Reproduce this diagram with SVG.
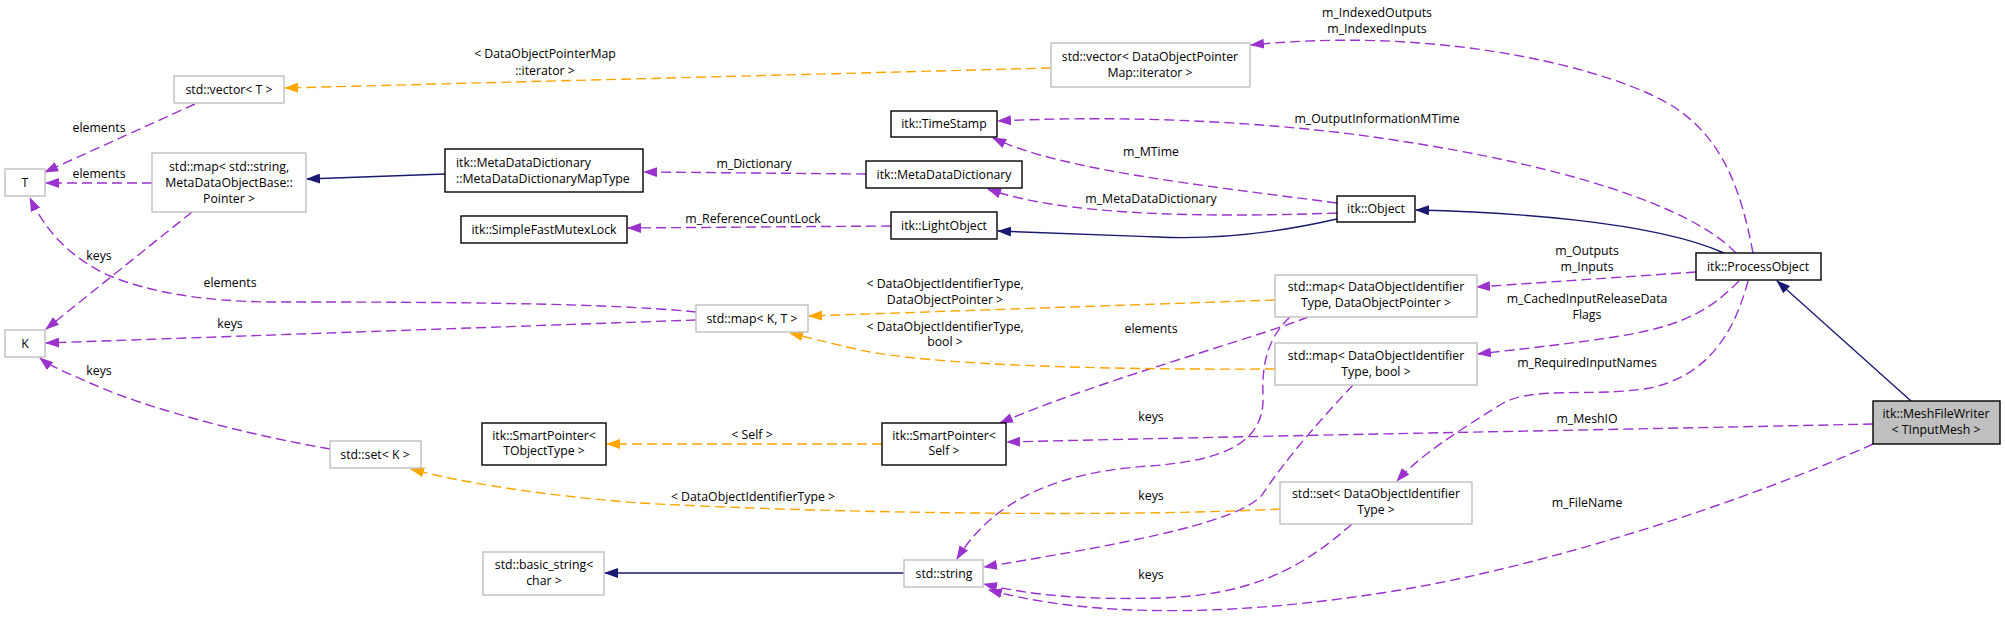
<svg xmlns="http://www.w3.org/2000/svg" width="2005" height="618" viewBox="0 0 2005 618">
<style>
text{font-family:"Open Sans","Liberation Sans",sans-serif;font-size:12.3px;fill:#000;text-anchor:middle}
.n rect{fill:#fff;stroke-width:1.4}
.ext rect{stroke:#bfbfbf}
.doc rect{stroke:#000}
.e path{fill:none;stroke-width:1.4}
.p{stroke:#9a32cd;stroke-dasharray:10,5;marker-end:url(#ap)}
.o{stroke:#ffa500;stroke-dasharray:10,5;marker-end:url(#ao)}
.s{stroke:#191970;marker-end:url(#as)}
</style>
<defs>
<marker id="ap" markerUnits="userSpaceOnUse" markerWidth="14" markerHeight="10" viewBox="0 0 14 10" refX="13" refY="5" orient="auto"><polygon points="0,0 14,5 0,10" fill="#9a32cd"/></marker>
<marker id="ao" markerUnits="userSpaceOnUse" markerWidth="14" markerHeight="10" viewBox="0 0 14 10" refX="13" refY="5" orient="auto"><polygon points="0,0 14,5 0,10" fill="#ffa500"/></marker>
<marker id="as" markerUnits="userSpaceOnUse" markerWidth="14" markerHeight="10" viewBox="0 0 14 10" refX="13" refY="5" orient="auto"><polygon points="0,0 14,5 0,10" fill="#191970"/></marker>
</defs>
<rect width="2005" height="618" fill="#fff"/>
<g id="edges" class="e">
<path class="p" d="M195,104 L45,172"/>
<path class="p" d="M152,183 L46,183"/>
<path class="p" d="M696,312 C600,302 400,302 268,302 C200,301 150,292 110,276 C70,258 45,230 30,198"/>
<path class="p" d="M192,212 L46,329"/>
<path class="p" d="M696,320 L46,343"/>
<path class="p" d="M330,449 C250,435 150,410 90,383 C65,372 50,366 40,358"/>
<path class="s" d="M445,174 L307,179"/>
<path class="p" d="M866,174 L644,172"/>
<path class="p" d="M891,226 L628,228"/>
<path class="o" d="M1051,68 L285,88"/>
<path class="p" d="M1753,253 C1742,195 1725,140 1674,107 C1620,72 1450,25 1251,45"/>
<path class="p" d="M1736,253 C1690,205 1560,165 1394,140 C1250,118 1100,116 998,121"/>
<path class="p" d="M1337,203 C1200,185 1060,170 993,138"/>
<path class="p" d="M1337,213 C1200,218 1060,215 988,189"/>
<path class="s" d="M1337,219 C1280,232 1220,240 1158,237 C1100,235 1040,233 998,231"/>
<path class="s" d="M1724,253 C1650,220 1500,212 1416,210"/>
<path class="p" d="M1696,272 L1477,287"/>
<path class="p" d="M1739,281 C1715,305 1690,325 1620,336 C1570,344 1520,349 1478,354"/>
<path class="p" d="M1748,281 C1735,330 1710,375 1650,388 C1590,398 1530,385 1500,405 C1460,430 1420,455 1397,481"/>
<path class="s" d="M1911,401 L1777,281"/>
<path class="p" d="M1873,424 C1600,430 1300,435 1007,442"/>
<path class="p" d="M1873,444 C1750,500 1550,565 1400,590 C1250,615 1100,620 989,590"/>
<path class="p" d="M1308,317 C1250,340 1100,380 1000,423"/>
<path class="p" d="M1290,317 C1265,340 1262,370 1263,395 C1265,440 1230,460 1150,466 C1050,472 990,505 957,559"/>
<path class="p" d="M1353,385 C1320,420 1285,460 1262,495 C1240,520 1150,540 984,567"/>
<path class="p" d="M1352,524 C1300,570 1250,595 1160,598 C1080,600 1030,595 984,584"/>
<path class="o" d="M1275,300 L809,316"/>
<path class="o" d="M1275,369 C1100,370 930,365 860,350 C830,343 805,337 790,333"/>
<path class="o" d="M1280,509 C1100,518 800,512 640,503 C560,497 470,485 411,469"/>
<path class="o" d="M882,444 L607,444"/>
<path class="s" d="M904,573 L605,573"/>
</g>
<g id="edge-labels">
<text x="99" y="132">elements</text>
<text x="99" y="178">elements</text>
<text x="230" y="287">elements</text>
<text x="99" y="260">keys</text>
<text x="230" y="328">keys</text>
<text x="99" y="375">keys</text>
<text x="545" y="58">&lt; DataObjectPointerMap</text>
<text x="545" y="75">::iterator &gt;</text>
<text x="1377" y="17">m_IndexedOutputs</text>
<text x="1377" y="33">m_IndexedInputs</text>
<text x="1377" y="123">m_OutputInformationMTime</text>
<text x="754" y="168">m_Dictionary</text>
<text x="1151" y="156">m_MTime</text>
<text x="1151" y="203">m_MetaDataDictionary</text>
<text x="753" y="223">m_ReferenceCountLock</text>
<text x="1587" y="255">m_Outputs</text>
<text x="1587" y="271">m_Inputs</text>
<text x="1587" y="303">m_CachedInputReleaseData</text>
<text x="1587" y="319">Flags</text>
<text x="1587" y="367">m_RequiredInputNames</text>
<text x="1587" y="423">m_MeshIO</text>
<text x="1587" y="507">m_FileName</text>
<text x="945" y="288">&lt; DataObjectIdentifierType,</text>
<text x="945" y="304">DataObjectPointer &gt;</text>
<text x="945" y="331">&lt; DataObjectIdentifierType,</text>
<text x="945" y="346">bool &gt;</text>
<text x="1151" y="333">elements</text>
<text x="1151" y="421">keys</text>
<text x="1151" y="500">keys</text>
<text x="1151" y="579">keys</text>
<text x="752" y="439">&lt; Self &gt;</text>
<text x="753" y="501">&lt; DataObjectIdentifierType &gt;</text>
</g>
<g id="node-T" class="n ext"><rect x="5" y="169" width="40" height="27"/><text x="25" y="187">T</text></g>
<g id="node-K" class="n ext"><rect x="5" y="330" width="40" height="27"/><text x="25" y="348">K</text></g>
<g id="node-vectorT" class="n ext"><rect x="174" y="76" width="110" height="27"/><text x="229" y="94">std::vector&lt; T &gt;</text></g>
<g id="node-mapString" class="n ext"><rect x="152" y="153" width="154" height="59"/><text x="229" y="171">std::map&lt; std::string,</text><text x="229" y="187">MetaDataObjectBase::</text><text x="229" y="203">Pointer &gt;</text></g>
<g id="node-MapType" class="n doc"><rect x="445" y="149" width="198" height="43"/><text x="456" y="167" style="text-anchor:start">itk::MetaDataDictionary</text><text x="456" y="183" style="text-anchor:start">::MetaDataDictionaryMapType</text></g>
<g id="node-Mutex" class="n doc"><rect x="461" y="216" width="166" height="27"/><text x="544" y="234">itk::SimpleFastMutexLock</text></g>
<g id="node-TimeStamp" class="n doc"><rect x="891" y="111" width="106" height="26"/><text x="944" y="128">itk::TimeStamp</text></g>
<g id="node-MetaDataDictionary" class="n doc"><rect x="866" y="161" width="156" height="27"/><text x="944" y="179">itk::MetaDataDictionary</text></g>
<g id="node-LightObject" class="n doc"><rect x="891" y="212" width="106" height="27"/><text x="944" y="230">itk::LightObject</text></g>
<g id="node-vectorDOPM" class="n ext"><rect x="1051" y="43" width="199" height="44"/><text x="1150" y="61">std::vector&lt; DataObjectPointer</text><text x="1150" y="77">Map::iterator &gt;</text></g>
<g id="node-Object" class="n doc"><rect x="1337" y="196" width="78" height="26"/><text x="1376" y="213">itk::Object</text></g>
<g id="node-ProcessObject" class="n doc"><rect x="1696" y="253" width="125" height="27"/><text x="1758" y="271">itk::ProcessObject</text></g>
<g id="node-MeshFileWriter" class="n doc"><rect x="1873" y="401" width="127" height="43" style="fill:#bfbfbf"/><text x="1936" y="418">itk::MeshFileWriter</text><text x="1936" y="434">&lt; TInputMesh &gt;</text></g>
<g id="node-mapDOP" class="n ext"><rect x="1275" y="275" width="202" height="42"/><text x="1376" y="291">std::map&lt; DataObjectIdentifier</text><text x="1376" y="307">Type, DataObjectPointer &gt;</text></g>
<g id="node-mapBool" class="n ext"><rect x="1275" y="343" width="202" height="42"/><text x="1376" y="360">std::map&lt; DataObjectIdentifier</text><text x="1376" y="376">Type, bool &gt;</text></g>
<g id="node-setDOI" class="n ext"><rect x="1280" y="482" width="192" height="42"/><text x="1376" y="498">std::set&lt; DataObjectIdentifier</text><text x="1376" y="514">Type &gt;</text></g>
<g id="node-mapKT" class="n ext"><rect x="696" y="305" width="112" height="27"/><text x="752" y="323">std::map&lt; K, T &gt;</text></g>
<g id="node-SPSelf" class="n doc"><rect x="882" y="423" width="124" height="42"/><text x="944" y="440">itk::SmartPointer&lt;</text><text x="944" y="455">Self &gt;</text></g>
<g id="node-SPTObj" class="n doc"><rect x="482" y="423" width="124" height="42"/><text x="544" y="440">itk::SmartPointer&lt;</text><text x="544" y="455">TObjectType &gt;</text></g>
<g id="node-setK" class="n ext"><rect x="330" y="441" width="91" height="27"/><text x="375" y="459">std::set&lt; K &gt;</text></g>
<g id="node-basicString" class="n ext"><rect x="483" y="552" width="121" height="43"/><text x="544" y="569">std::basic_string&lt;</text><text x="544" y="585">char &gt;</text></g>
<g id="node-string" class="n ext"><rect x="904" y="560" width="79" height="27"/><text x="944" y="578">std::string</text></g>
</svg>
